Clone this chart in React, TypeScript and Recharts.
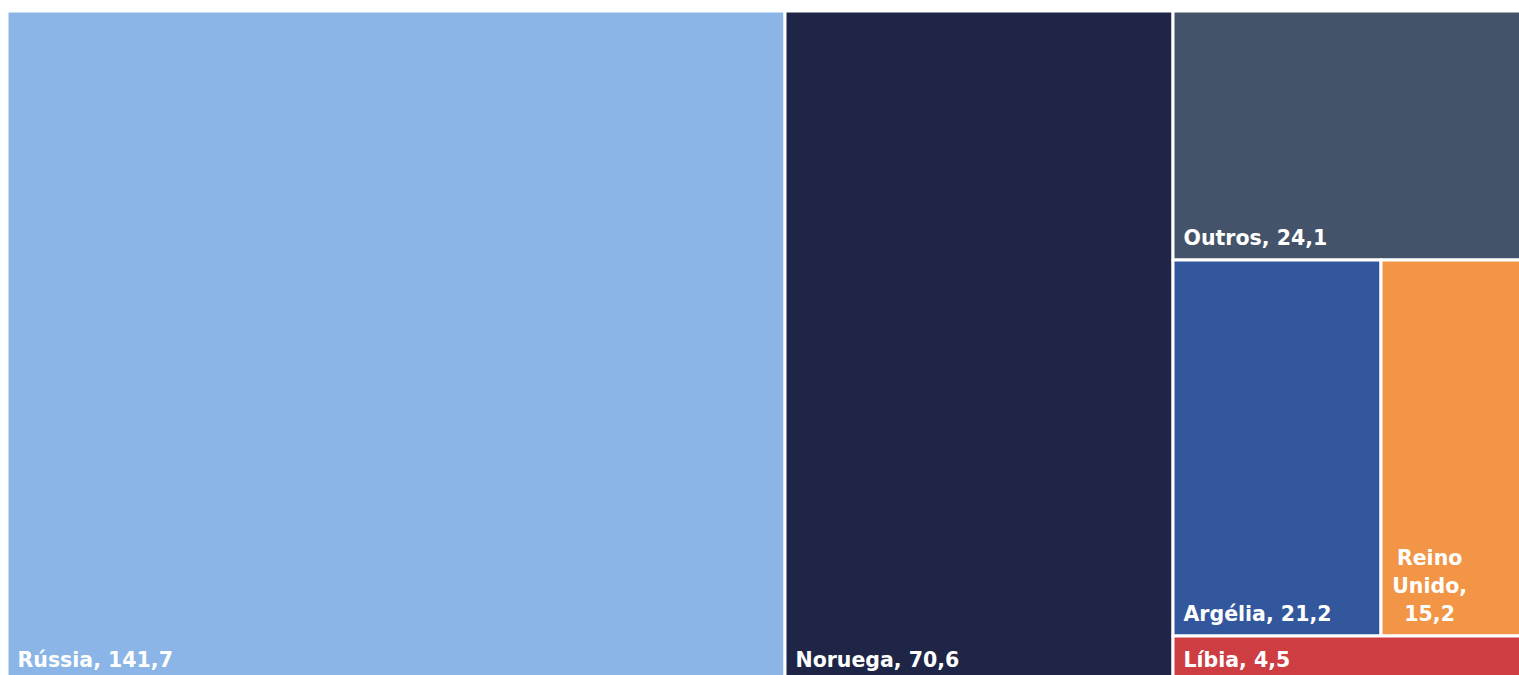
import React from "react";
import { Treemap } from "recharts";

const countries = ["Rússia", "Noruega", "Outros", "Argélia", "Reino Unido", "Líbia"];
const imports = [141.7, 70.6, 24.1, 21.2, 15.2, 4.5];
const colors = ["#8AB5E6", "#1E2546", "#445369", "#32579C", "#F29546", "#CD3D42"];

const data = countries.map((name, i) => ({ name, size: imports[i], color: colors[i] }));

const FONT_SIZE = 20.5;
const CHAR_W = 0.62 * FONT_SIZE;

function wrapLabel(text: string, maxW: number): string[] {
  if (text.length * CHAR_W <= maxW) return [text];
  const words = text.split(" ");
  const lines: string[] = [];
  let cur = "";
  for (const w of words) {
    const next = cur ? cur + " " + w : w;
    if (cur && next.length * CHAR_W > maxW) {
      lines.push(cur);
      cur = w;
    } else {
      cur = next;
    }
  }
  if (cur) lines.push(cur);
  return lines;
}

function Cell(props: any) {
  const { x, y, width, height, depth, name, size, color } = props;
  if (depth !== 1) return null;
  const label = `${name}, ${String(size).replace(".", ",")}`;
  const lines = wrapLabel(label, width - 22);
  const lineH = 28;
  const bottom = y + height - 15;
  const multi = lines.length > 1;
  const longest = Math.max(...lines.map((l) => l.length)) * CHAR_W;
  return (
    <g>
      <rect x={x} y={y} width={width} height={height} fill={color} stroke="#fff" strokeWidth={3} />
      {lines.map((l, i) => (
        <text
          key={i}
          x={multi ? x + 10.5 + longest / 2 : x + 10.5}
          y={bottom - (lines.length - 1 - i) * lineH}
          textAnchor={multi ? "middle" : "start"}
          fill="#fff"
          fontSize={FONT_SIZE}
          fontWeight={700}
          fontFamily="'DejaVu Sans', sans-serif"
        >
          {l}
        </text>
      ))}
    </g>
  );
}

export default function App() {
  return (
    <div style={{ position: "fixed", left: 0, top: 0, width: 1519, height: 675, overflow: "hidden", background: "#fff" }}>
      <div style={{ position: "absolute", left: 6.5, top: 10.5 }}>
        <Treemap
          width={1523}
          height={671}
          data={data}
          dataKey="size"
          nameKey="name"
          aspectRatio={1.3}
          isAnimationActive={false}
          content={<Cell />}
        />
      </div>
    </div>
  );
}
